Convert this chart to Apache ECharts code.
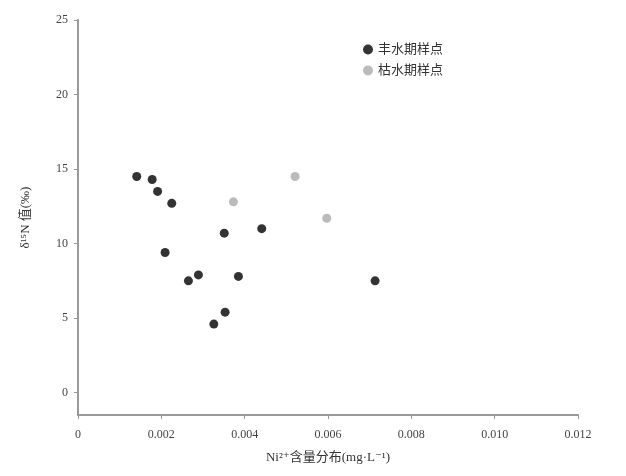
<!DOCTYPE html>
<html><head><meta charset="utf-8">
<script src="https://cdn.jsdelivr.net/npm/echarts@6/dist/echarts.min.js"></script>
<style>html,body{margin:0;padding:0;background:#fff}#c{width:626px;height:476px}</style>
</head><body><div id="c"></div>
<script>
const seriesNames = ['丰水期样点', '枯水期样点'];
const wetX = [0.00141, 0.00178, 0.00191, 0.00225, 0.00351, 0.00441, 0.00209, 0.00289, 0.00265, 0.00385, 0.00353, 0.00326, 0.00713];
const wetY = [14.5, 14.3, 13.5, 12.7, 10.7, 11.0, 9.4, 7.9, 7.5, 7.8, 5.4, 4.6, 7.5];
const dryX = [0.00521, 0.00373, 0.00597];
const dryY = [14.5, 12.8, 11.7];
const yTicks = [0, 5, 10, 15, 20, 25];
const xTitle = 'Ni²⁺含量分布(mg·L⁻¹)';
const yTitle = 'δ¹⁵N 值(‰)';

const pair = (xs, ys) => xs.map((x, i) => [x, ys[i]]);
const chart = echarts.init(document.getElementById('c'));
const font = 'Liberation Serif, DejaVu Serif, Noto Sans CJK SC';
chart.setOption({
  animation: false,
  backgroundColor: '#fff',
  grid: { left: 78, right: 48, top: 20, bottom: 61 },
  legend: {
    left: 358, top: 38, orient: 'vertical', itemGap: 8,
    itemWidth: 10, itemHeight: 10,
    textStyle: { fontFamily: font, fontSize: 13, color: '#333' },
    data: seriesNames
  },
  xAxis: {
    type: 'value', min: 0, max: 0.012, interval: 0.002,
    name: xTitle, nameLocation: 'middle', nameGap: 36,
    nameTextStyle: { fontFamily: font, fontSize: 13, color: '#333' },
    axisLine: { onZero: false, lineStyle: { color: '#999', width: 2 } },
    axisTick: { show: true, inside: false, length: 4, lineStyle: { color: '#999' } },
    axisLabel: { fontFamily: font, fontSize: 12, color: '#444', margin: 14, formatter: v => v === 0 ? '0' : v.toFixed(3) },
    splitLine: { show: false }
  },
  yAxis: {
    type: 'value', min: -1.5, max: 25,
    name: yTitle, nameLocation: 'middle', nameGap: 46, nameRotate: 90,
    nameTextStyle: { fontFamily: font, fontSize: 13, color: '#333' },
    axisLine: { show: true, onZero: false, lineStyle: { color: '#999', width: 2 } },
    axisTick: { show: true, length: 4, customValues: yTicks, lineStyle: { color: '#999' } },
    axisLabel: { fontFamily: font, fontSize: 12, color: '#444', margin: 10, customValues: yTicks },
    splitLine: { show: false }
  },
  series: [
    { name: seriesNames[0], type: 'scatter', symbol: 'circle', symbolSize: 9,
      itemStyle: { color: '#000' }, data: pair(wetX, wetY) },
    { name: seriesNames[1], type: 'scatter', symbol: 'circle', symbolSize: 9,
      itemStyle: { color: '#aaa' }, data: pair(dryX, dryY) }
  ]
});
</script></body></html>
